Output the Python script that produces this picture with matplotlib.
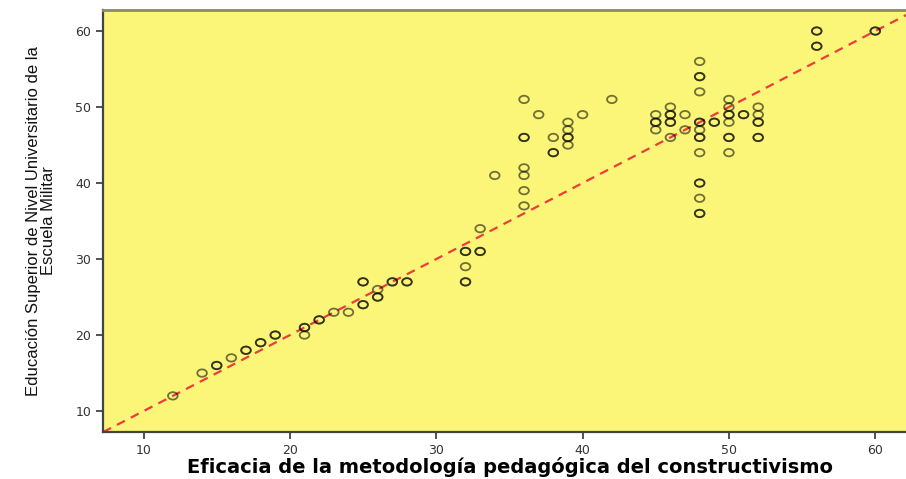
import matplotlib.pyplot as plt
from matplotlib.path import Path
from matplotlib.transforms import Affine2D

# Eficacia (x) vs Educación Superior (y); repeated pairs = overlapping cases
eficacia = [12, 14, 15, 15, 16, 17, 17, 18, 18, 19, 19, 21, 21, 21, 22, 22,
            23, 24, 25, 25, 25, 25, 26, 26, 26, 27, 27, 28, 28,
            32, 32, 32, 32, 32, 33, 33, 33, 34,
            36, 36, 36, 36, 36, 36, 36, 37, 38, 38, 38, 39, 39, 39, 39, 39, 40, 42,
            45, 45, 45, 45, 46, 46, 46, 46, 46, 46, 47, 47,
            48, 48, 48, 48, 48, 48, 48, 48, 48, 48, 48, 48, 48, 48, 48,
            49, 49, 50, 50, 50, 50, 50, 50, 50, 50, 51, 51,
            52, 52, 52, 52, 52, 52, 56, 56, 56, 56, 60, 60]
educacion = [12, 15, 16, 16, 17, 18, 18, 19, 19, 20, 20, 20, 21, 21, 22, 22,
             23, 23, 27, 27, 24, 24, 26, 25, 25, 27, 27, 27, 27,
             31, 31, 29, 27, 27, 34, 31, 31, 41,
             51, 46, 46, 42, 41, 39, 37, 49, 46, 44, 44, 48, 47, 46, 46, 45, 49, 51,
             49, 48, 48, 47, 50, 49, 49, 48, 48, 46, 49, 47,
             56, 54, 54, 52, 48, 48, 47, 46, 46, 44, 40, 40, 38, 36, 36,
             48, 48, 51, 50, 49, 49, 48, 46, 46, 44, 49, 49,
             50, 49, 48, 48, 46, 46, 60, 60, 58, 58, 60, 60]

fig = plt.figure(figsize=(9.06, 4.79), dpi=100)
ax = fig.add_axes([0.1137, 0.098, 0.8863, 0.881])
ax.set_facecolor('#fbf678')

# slightly wide ellipse, like the stretched original
ring = Path.unit_circle().transformed(Affine2D().scale(1.3, 1.0))
ax.scatter(eficacia, educacion, marker=ring, s=48, facecolors='none',
           edgecolors='black', linewidths=1.3, alpha=0.55, zorder=3)

ax.axline((0, 0), slope=1, color='#ee3b3b', linestyle=(0, (4, 3)), linewidth=1.6, zorder=2)

ax.set_xlim(7.23, 62.1)
ax.set_ylim(7.24, 62.76)
ax.set_xticks([10, 20, 30, 40, 50, 60])
ax.set_yticks([10, 20, 30, 40, 50, 60])
ax.tick_params(labelsize=9, colors='#333333', length=5, width=1.2)
for s in ['left', 'bottom']:
    ax.spines[s].set_color('#444444')
    ax.spines[s].set_linewidth(1.6)
ax.spines['top'].set_color('#8a8a6a')
ax.spines['top'].set_linewidth(2)
ax.spines['right'].set_visible(False)

fig.text(0.563, 1 - 467 / 479, 'Eficacia de la metodología pedagógica del constructivismo',
         fontsize=14, fontweight='bold', family='DejaVu Sans', ha='center', va='center')
ax.set_ylabel('Educación Superior de Nivel Universitario de la\nEscuela Militar',
              fontsize=12, family='Liberation Sans', color='#111111',
              linespacing=1.0, labelpad=14)

fig.savefig('out.png', dpi=100)
